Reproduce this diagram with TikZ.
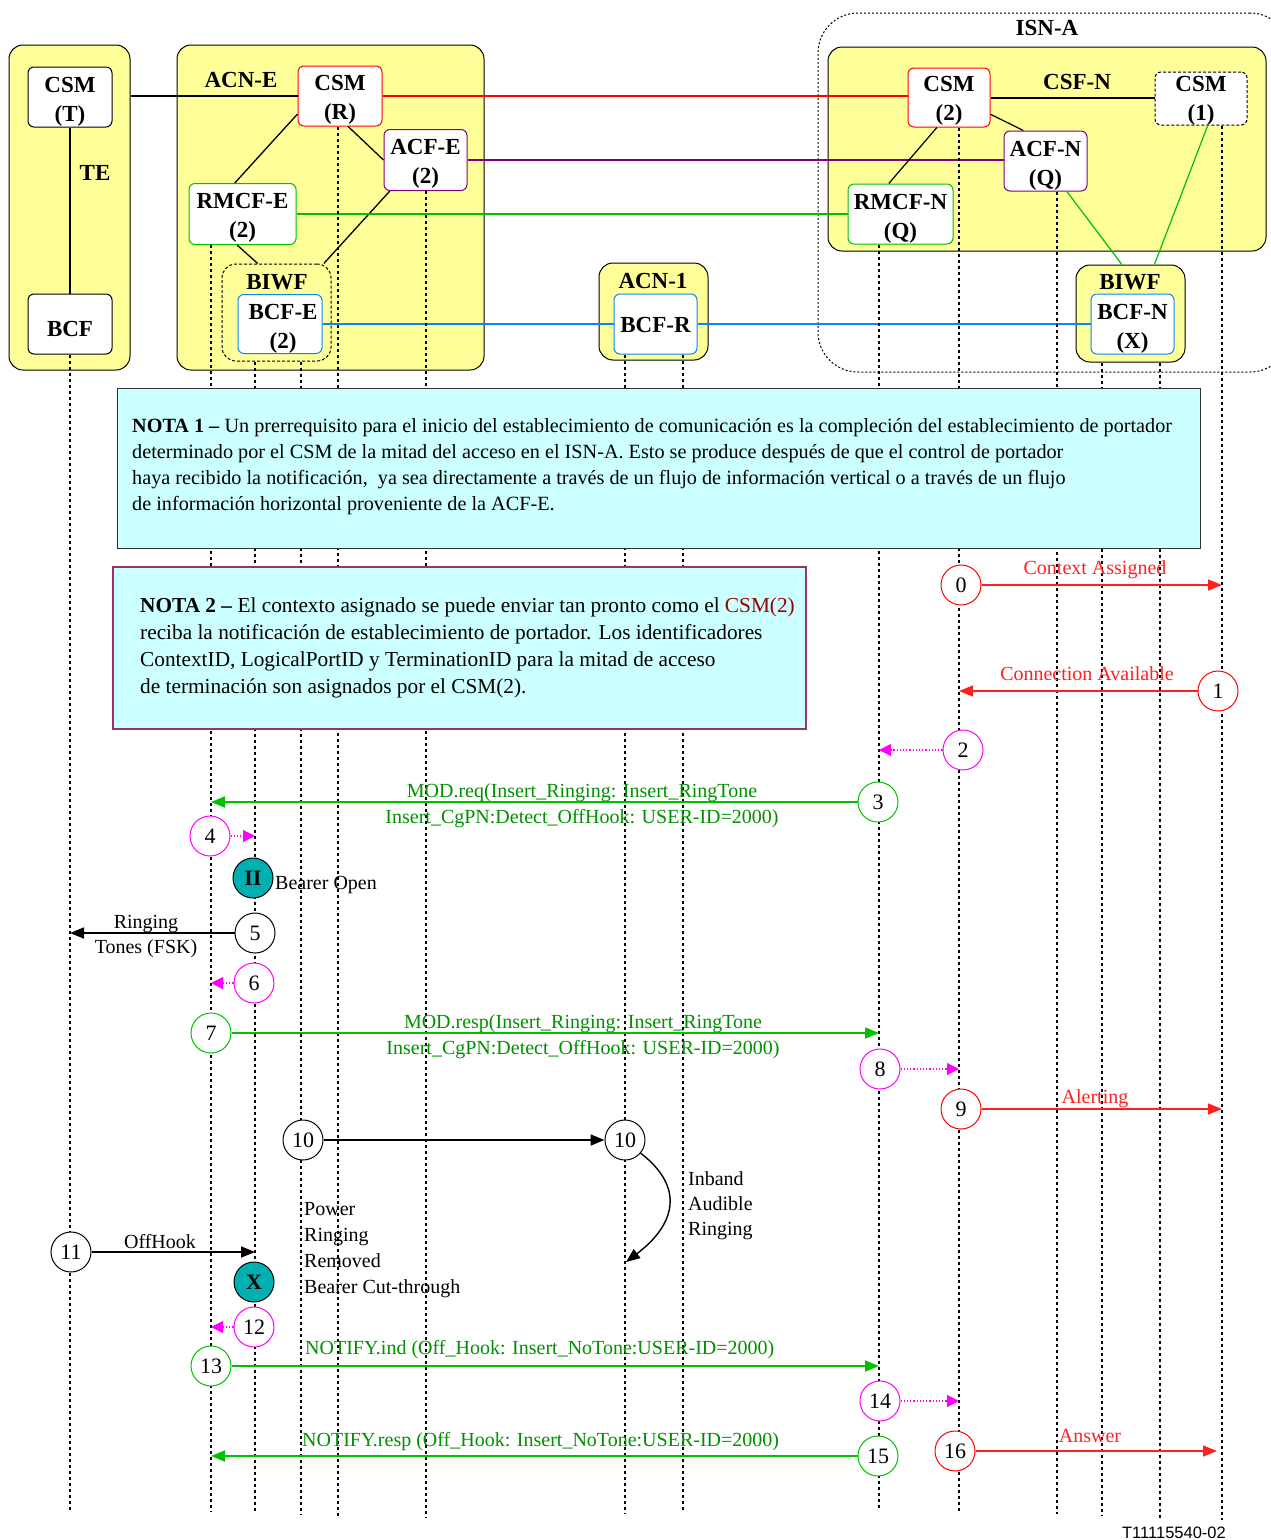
\documentclass[tikz,border=0pt]{standalone}
\usepackage{fontspec}
\setmainfont{Liberation Serif}
\setsansfont{Liberation Sans}
\usetikzlibrary{arrows.meta}
\definecolor{yel}{HTML}{FFFF99}
\definecolor{cred}{HTML}{FF0000}
\definecolor{carr}{HTML}{FF2020}
\definecolor{cpur}{HTML}{800080}
\definecolor{cgrn}{HTML}{00C000}
\definecolor{cgtx}{HTML}{009000}
\definecolor{cblu}{HTML}{0A84FF}
\definecolor{cmag}{HTML}{FF00FF}
\definecolor{ccya}{HTML}{CCFFFF}
\definecolor{cnb}{HTML}{993366}
\definecolor{cdr}{HTML}{990000}
\definecolor{cteal}{HTML}{00B0B0}
\begin{document}
\begin{tikzpicture}[x=1pt,y=-1pt,
  yelbox/.style={draw=black, line width=1pt, fill=yel, rounded corners=14pt, inner sep=0pt},
  fbox/.style={draw, line width=1pt, fill=white, rounded corners=6pt, inner sep=0pt},
  btxt/.style={inner sep=0pt, align=center, font=\fontsize{23}{29}\selectfont\bfseries},
  lbl/.style={font=\fontsize{23}{28}\selectfont\bfseries, inner sep=0pt},
  life/.style={line width=1.4pt, dash pattern=on 3pt off 3pt},
  num/.style={circle, draw, fill=white, minimum size=40pt, inner sep=0pt, line width=1pt, font=\fontsize{22}{22}\selectfont},
  tnum/.style={num, fill=cteal, draw=black, font=\fontsize{22}{22}\selectfont\bfseries},
  txt/.style={font=\fontsize{20}{24}\selectfont, inner sep=0pt, anchor=base},
  ntxt/.style={font=\fontsize{20}{24}\selectfont, inner sep=0pt, anchor=base west},
  n1txt/.style={font=\fontsize{20.2}{24}\selectfont, inner sep=0pt, anchor=base west},
  n2txt/.style={font=\fontsize{21.3}{24}\selectfont, inner sep=0pt, anchor=base west},
  arr/.style={-{Triangle[length=14pt,width=11pt]}, line width=1.7pt},
  darr/.style={-{Triangle[length=12pt,width=12pt]}, line width=1.2pt, dotted, cmag},
  hline/.style={line width=2pt},
]
\useasboundingbox (0,0) rectangle (1270,1540);
\fill[white] (0,0) rectangle (1270,1540);

% ---------- containers ----------
\node[draw, line width=1pt, dash pattern=on 2pt off 2pt, rounded corners=40pt, minimum width=472pt, minimum height=359pt] (ISNA) at (1054,192.5) {};
\node[yelbox, minimum width=121pt, minimum height=325pt] (TE) at (69.5,207.5) {};
\node[yelbox, minimum width=307pt, minimum height=325pt] (ACNE) at (330.5,207.5) {};
\node[yelbox, minimum width=438pt, minimum height=204pt] (CSFN) at (1047,149) {};
\node[yelbox, minimum width=109pt, minimum height=97pt] (ACN1) at (653.5,311.5) {};
\node[yelbox, minimum width=109pt, minimum height=97pt] (BIWFN) at (1130.5,313.5) {};
\node[draw, line width=1pt, dash pattern=on 3pt off 2pt, rounded corners=14pt, minimum width=109pt, minimum height=97pt, inner sep=0pt] (BIWFE) at (276.5,312.5) {};

% ---------- function boxes ----------
\node[fbox, minimum width=84pt, minimum height=60pt] (CSMT) at (70,97) {};
\node[fbox, minimum width=84pt, minimum height=60pt] (BCF) at (70,324) {};
\node[fbox, draw=cred, minimum width=84pt, minimum height=60pt] (CSMR) at (340,96) {};
\node[fbox, draw=cpur, minimum width=83pt, minimum height=61pt] (ACFE) at (425.5,160) {};
\node[fbox, draw=cgrn, minimum width=107pt, minimum height=61pt] (RMCFE) at (242.5,214) {};
\node[fbox, draw=cblu, minimum width=84pt, minimum height=59pt] (BCFE) at (280,324) {};
\node[fbox, draw=cblu, minimum width=83pt, minimum height=60pt] (BCFR) at (655.5,324) {};
\node[fbox, draw=cred, minimum width=82pt, minimum height=59pt] (CSM2) at (949,97.5) {};
\node[fbox, dash pattern=on 3pt off 2pt, minimum width=92pt, minimum height=53pt] (CSM1) at (1201,98.5) {};
\node[fbox, draw=cpur, minimum width=83pt, minimum height=60pt] (ACFN) at (1045.5,161) {};
\node[fbox, draw=cgrn, minimum width=105pt, minimum height=60pt] (RMCFN) at (900.5,214) {};
\node[fbox, draw=cblu, minimum width=83pt, minimum height=60pt] (BCFN) at (1132.5,324) {};

\node[btxt] (tCSMT) at ([yshift=-5pt]CSMT.center) {CSM\\(T)};
\node[btxt] (tBCF) at ([yshift=-5pt]BCF.center) {BCF};
\node[btxt] (tCSMR) at ([yshift=-4pt]CSMR.center) {CSM\\(R)};
\node[btxt] (tACFE) at ([yshift=-3.5pt]ACFE.center) {ACF-E\\(2)};
\node[btxt] (tRMCFE) at ([yshift=-3.5pt]RMCFE.center) {RMCF-E\\(2)};
\node[btxt] (tBCFE) at ([yshift=-4.5pt,xshift=3pt]BCFE.center) {BCF-E\\(2)};
\node[btxt] (tBCFR) at ([yshift=-1pt]BCFR.center) {BCF-R};
\node[btxt] (tCSM2) at ([yshift=-3pt]CSM2.center) {CSM\\(2)};
\node[btxt] (tCSM1) at ([yshift=-2pt]CSM1.center) {CSM\\(1)};
\node[btxt] (tACFN) at ([yshift=-5pt]ACFN.center) {ACF-N\\(Q)};
\node[btxt] (tRMCFN) at ([yshift=-5pt]RMCFN.center) {RMCF-N\\(Q)};
\node[btxt] (tBCFN) at ([yshift=-5pt]BCFN.center) {BCF-N\\(X)};

% ---------- labels ----------
\node[lbl] (lTE) at (95,173) {TE};
\node[lbl] (lACNE) at (241,80) {ACN-E};
\node[lbl] (lBIWFE) at (277,282) {BIWF};
\node[lbl] (lACN1) at (653,281) {ACN-1};
\node[lbl] (lISNA) at (1047,28) {ISN-A};
\node[lbl] (lCSFN) at (1077,82) {CSF-N};
\node[lbl] (lBIWFN) at (1130,282) {BIWF};

% ---------- top connectors ----------
\draw[hline] (CSMT) -- (BCF);
\draw[hline] (CSMR.west -| TE.east) -- (CSMR.west);
\draw[line width=1.3pt] (CSMR.203) -- (RMCFE.104);
\draw[line width=1.3pt] (CSMR.285) -- (ACFE.west);
\draw[line width=1.3pt] (ACFE.221) -- (BIWFE.46);
\draw[line width=1.3pt] (RMCFE.260) -- (BIWFE.111);
\draw[hline, draw=cred] (CSMR.east) -- (CSMR.east -| CSM2.west);
\draw[hline, draw=cpur] (ACFE.east) -- (ACFE.east -| ACFN.west);
\draw[hline, draw=cgrn] (RMCFE.east) -- (RMCFE.east -| RMCFN.west);
\draw[hline, draw=cblu] (BCFE.east) -- (BCFR.west);
\draw[hline, draw=cblu] (BCFR.east) -- (BCFN.west);
\draw[hline] (CSM2.east) -- (CSM2.east -| CSM1.west);
\draw[line width=1.2pt] (CSM2.248) -- (RMCFN.111);
\draw[line width=1.2pt] (CSM2.338) -- (ACFN.126);
\draw[draw=cgrn, line width=1.2pt] (ACFN.305) -- (BIWFN.100);
\draw[draw=cgrn, line width=1.2pt] (CSM1.284) -- (BIWFN.64);

% ---------- lifelines ----------
\coordinate (L1) at (70,1510);
\coordinate (L2) at (211,1512);
\coordinate (L3) at (255,1512);
\coordinate (L4) at (301,1514);
\coordinate (L5) at (338,1516);
\coordinate (L6) at (426,1518);
\coordinate (L7) at (625,1514);
\coordinate (L8) at (683,1510);
\coordinate (L9) at (879,1510);
\coordinate (L10) at (959,1512);
\coordinate (L11) at (1057,1514);
\coordinate (L12) at (1102,1516);
\coordinate (L13) at (1160,1518);
\coordinate (L14) at (1222,1520);
\draw[life] (L1 |- BCF.south) -- (L1);
\draw[life] (L2 |- RMCFE.south) -- (L2);
\draw[life] (L3 |- BIWFE.south) -- (L3);
\draw[life] (L4 |- BIWFE.south) -- (L4);
\draw[life] (L5 |- CSMR.south) -- (L5);
\draw[life] (L6 |- ACFE.south) -- (L6);
\draw[life] (L7 |- BCFR.south) -- (L7);
\draw[life] (L8 |- BCFR.south) -- (L8);
\draw[life] (L9 |- RMCFN.south) -- (L9);
\draw[life] (L10 |- CSM2.south) -- (L10);
\draw[life] (L11 |- ACFN.south) -- (L11);
\draw[life] (L12 |- BIWFN.south) -- (L12);
\draw[life] (L13 |- BIWFN.south) -- (L13);
\draw[life] (L14 |- CSM1.south) -- (L14);

% ---------- notes ----------
\node[draw=black!80, line width=1pt, fill=ccya, minimum width=1083pt, minimum height=160pt, inner sep=0pt] (N1) at (658.5,468) {};
\node[n1txt] (n1a) at (132,432) {\textbf{NOTA 1 –} Un prerrequisito para el inicio del establecimiento de comunicación es la compleción del establecimiento de portador};
\node[n1txt] (n1b) at (132,458) {determinado por el CSM de la mitad del acceso en el ISN-A. Esto se produce después de que el control de portador};
\node[n1txt] (n1c) at (132,484) {haya recibido la notificación,\ \ ya sea directamente a través de un flujo de información vertical o a través de un flujo};
\node[n1txt] (n1d) at (132,510) {de información horizontal proveniente de la ACF-E.};

\node[draw=cnb, line width=1.5pt, fill=ccya, minimum width=693pt, minimum height=162pt, inner sep=0pt] (N2) at (459.5,648) {};
\node[n2txt] (n2a) at (140,612) {\textbf{NOTA 2 –} El contexto asignado se puede enviar tan pronto como el \textcolor{cdr}{CSM(2)}};
\node[n2txt] (n2b) at (140,639) {reciba la notificación de establecimiento de portador. Los identificadores};
\node[n2txt] (n2c) at (140,666) {ContextID, LogicalPortID y TerminationID para la mitad de acceso};
\node[n2txt] (n2d) at (140,693) {de terminación son asignados por el CSM(2).};

% ---------- sequence circles ----------
\node[num, draw=cred] (c0) at (961,585) {0};
\node[num, draw=cred] (c1) at (1218,691) {1};
\node[num, draw=cmag] (c2) at (963,750) {2};
\node[num, draw=cgrn] (c3) at (878,802) {3};
\node[num, draw=cmag] (c4) at (210,836) {4};
\node[tnum] (cII) at (253,878) {II};
\node[num] (c5) at (255,933) {5};
\node[num, draw=cmag] (c6) at (254,983) {6};
\node[num, draw=cgrn] (c7) at (211,1033) {7};
\node[num, draw=cmag] (c8) at (880,1069) {8};
\node[num, draw=cred] (c9) at (961,1109) {9};
\node[num] (c10a) at (303,1140) {10};
\node[num] (c10b) at (625,1140) {10};
\node[num] (c11) at (71,1252) {11};
\node[tnum] (cX) at (254,1282) {X};
\node[num, draw=cmag] (c12) at (254,1327) {12};
\node[num, draw=cgrn] (c13) at (211,1366) {13};
\node[num, draw=cmag] (c14) at (880,1401) {14};
\node[num, draw=cgrn] (c15) at (878,1456) {15};
\node[num, draw=cred] (c16) at (955,1451) {16};
\coordinate (cend) at (626,1262);

% ---------- messages ----------
\draw[arr, carr, line width=1.5pt] (c0.east) -- (c0 -| L14);
\node[txt, text=carr] (t0) at (1095,574) {Context Assigned};
\draw[arr, carr, line width=1.5pt] (c1.west) -- (c1 -| L10);
\node[txt, text=carr] (t1) at (1087,680) {Connection Available};
\draw[darr] (c2.west) -- (c2 -| L9);
\draw[arr, cgrn] (c3.west) -- (c3 -| L2);
\node[txt, text=cgtx] (t3a) at (582,797) {MOD.req(Insert\_Ringing: Insert\_RingTone};
\node[txt, text=cgtx] (t3b) at (582,823) {Insert\_CgPN:Detect\_OffHook: USER-ID=2000)};
\draw[darr] (c4.east) -- (c4 -| L3);
\node[ntxt] (tII) at (275,889) {Bearer Open};
\draw[arr] (c5.west) -- (c5 -| L1);
\node[txt] (t5a) at (146,928) {Ringing};
\node[txt] (t5b) at (146,953) {Tones (FSK)};
\draw[darr] (c6.west) -- (c6 -| L2);
\draw[arr, cgrn] (c7.east) -- (c7 -| L9);
\node[txt, text=cgtx] (t7a) at (583,1028) {MOD.resp(Insert\_Ringing: Insert\_RingTone};
\node[txt, text=cgtx] (t7b) at (583,1054) {Insert\_CgPN:Detect\_OffHook: USER-ID=2000)};
\draw[darr] (c8.east) -- (c8 -| L10);
\draw[arr, carr, line width=1.5pt] (c9.east) -- (c9 -| L14);
\node[txt, text=carr] (t9) at (1095,1103) {Alerting};
\draw[arr] (c10a.east) -- (c10b.west);
\draw[-{Triangle[length=14pt,width=11pt]}, line width=1.4pt] (c10b.-40) .. controls +(44,34) and +(50,-38) .. (cend);
\node[ntxt] (t10a) at (688,1185) {Inband};
\node[ntxt] (t10b) at (688,1210) {Audible};
\node[ntxt] (t10c) at (688,1235) {Ringing};
\node[ntxt] (tpa) at (304,1215) {Power};
\node[ntxt] (tpb) at (304,1241) {Ringing};
\node[ntxt] (tpc) at (304,1267) {Removed};
\node[ntxt] (tpd) at (304,1293) {Bearer Cut-through};
\draw[arr] (c11.east) -- (c11 -| L3);
\node[txt] (t11) at (160,1248) {OffHook};
\draw[darr] (c12.west) -- (c12 -| L2);
\draw[arr, cgrn] (c13.east) -- (c13 -| L9);
\node[ntxt, text=cgtx] (t13) at (305,1354) {NOTIFY.ind (Off\_Hook: Insert\_NoTone:USER-ID=2000)};
\draw[darr] (c14.east) -- (c14 -| L10);
\draw[arr, cgrn] (c15.west) -- (c15 -| L2);
\node[ntxt, text=cgtx] (t15) at (302,1446) {NOTIFY.resp (Off\_Hook: Insert\_NoTone:USER-ID=2000)};
\draw[arr, carr, line width=1.5pt] (c16.east) -- ([xshift=-5pt]c16 -| L14);
\node[txt, text=carr] (t16) at (1090,1442) {Answer};
\node[font=\sffamily\fontsize{16.5}{16.5}\selectfont, inner sep=0pt, anchor=base east] (tid) at (1226,1538) {T11115540-02};
\end{tikzpicture}
\end{document}
